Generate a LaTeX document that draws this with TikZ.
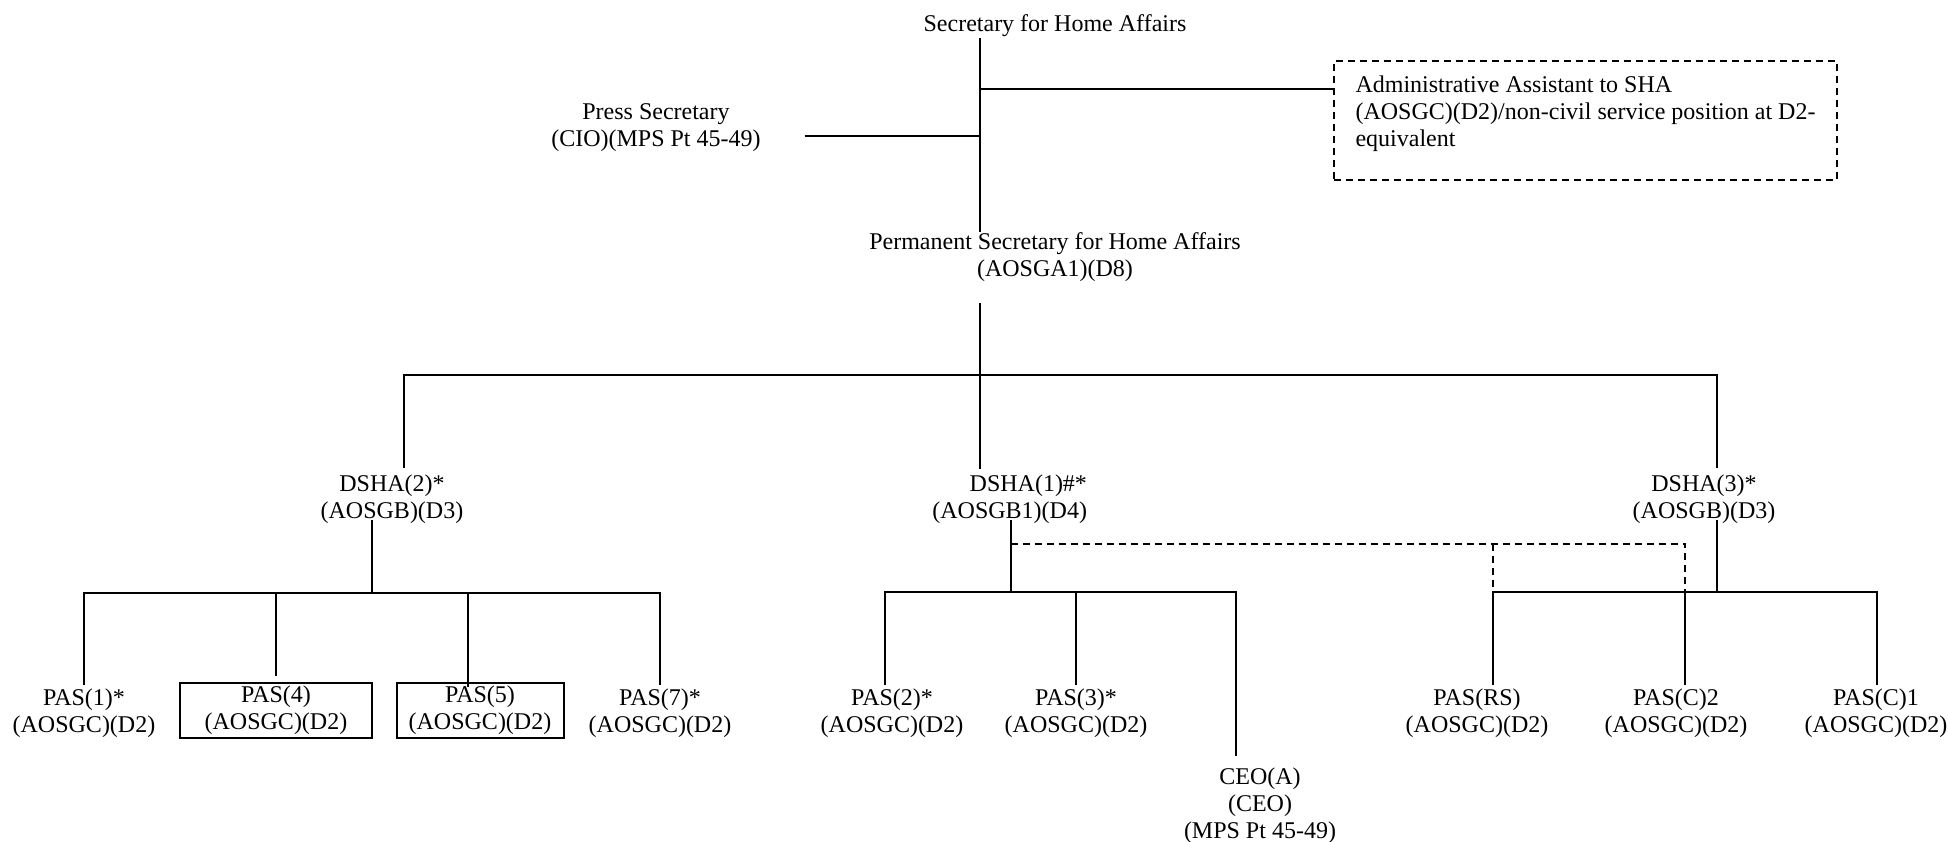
\documentclass[tikz,border=0pt]{standalone}
\usepackage{fontspec}
\setmainfont{Liberation Serif}
\usetikzlibrary{calc}
\begin{document}
\begin{tikzpicture}[x=0.5pt,y=-0.5pt,line width=1pt]
  \tikzset{every node/.style={inner sep=0pt,anchor=north,align=center,font=\fontsize{12}{13.5}\selectfont},
    post/.style={minimum width=96pt,minimum height=27.5pt},
    postbox/.style={post,draw},
    dashlink/.style={dash pattern=on 3.5pt off 2.5pt}}
  \useasboundingbox (0,0) rectangle (1948,841);
  \node (sha) at (1055,14) {Secretary for Home Affairs};
  \node (press) at (656,103) {Press Secretary\\(CIO)(MPS Pt 45-49)};
  \node (perm) at (1055,232) {Permanent Secretary for Home Affairs\\(AOSGA1)(D8)};
  \node[draw,dashlink,anchor=north west,align=left,minimum width=251.5pt,minimum height=59.5pt,text depth=9pt] (admin) at (1333,60)
    {Administrative Assistant to SHA\\(AOSGC)(D2)/non-civil service position at D2-\\equivalent};
  \node (dsha2) at (392,474) {DSHA(2)*\\(AOSGB)(D3)};
  \node[anchor=north east,align=right] (dsha1) at (1088,474) {DSHA(1)\#*\\(AOSGB1)(D4)};
  \node (dsha3) at (1704,474) {DSHA(3)*\\(AOSGB)(D3)};
  \node[post] (pas1) at (84,685) {PAS(1)*\\(AOSGC)(D2)};
  \node[postbox] (pas4) at (276,682) {PAS(4)\\(AOSGC)(D2)};
  \node[postbox,minimum width=83.5pt] (pas5) at (480,682) {PAS(5)\\(AOSGC)(D2)};
  \node[post] (pas7) at (660,685) {PAS(7)*\\(AOSGC)(D2)};
  \node[post] (pas2) at (892,685) {PAS(2)*\\(AOSGC)(D2)};
  \node[post] (pas3) at (1076,685) {PAS(3)*\\(AOSGC)(D2)};
  \node (ceo) at (1260,767) {CEO(A)\\(CEO)\\(MPS Pt 45-49)};
  \node[post] (pasrs) at (1477,685) {PAS(RS)\\(AOSGC)(D2)};
  \node[post] (pasc2) at (1676,685) {PAS(C)2\\(AOSGC)(D2)};
  \node[post] (pasc1) at (1876,685) {PAS(C)1\\(AOSGC)(D2)};
  \coordinate (spine) at (980,0);
  \draw (sha.south -| spine) -- (perm.north -| spine);
  \draw ($(admin.north west)+(0,28.5)$) coordinate (a1) -- (a1 -| spine);
  \draw ($(press.east)+(43,8.3)$) coordinate (p1) -- (p1 -| spine);
  \draw (perm.south -| spine) ++(0,20) -- ++(0,72) coordinate (bar);
  \draw ($(dsha2.north)+(12,-6)$) |- (bar) -| ($(dsha3.north)+(13,-6)$);
  \draw (bar) |- ($(dsha1.north)+(-31,-6)$);
  \draw ($(dsha2.south)+(-20,-5)$) -- ++(0,73) coordinate (b2);
  \draw (pas1.north) |- (b2) -| (pas7.north);
  \draw ($(pas4.north)+(0,-6)$) coordinate (p4) -- (p4 |- b2);
  \draw ($(pas5.north)+(-12,5)$) coordinate (p5) -- (p5 |- b2);
  \draw ($(dsha1.south)+(1,-5)$) -- ++(0,72) coordinate (b1);
  \draw ($(pas2.north)+(-7,0)$) |- (b1) -| ($(ceo.north)+(-24,-11)$);
  \draw (pas3.north) -- (pas3.north |- b1);
  \draw ($(dsha3.south)+(13,-5)$) -- ++(0,72) coordinate (b3);
  \draw ($(pasrs.north)+(16,0)$) coordinate (rs) |- (b3) -| ($(pasc1.north)+(1,0)$);
  \draw ($(pasc2.north)+(9,0)$) coordinate (c2) -- (c2 |- b3);
  \draw[dashlink] ($(dsha1.south)+(1,19)$) coordinate (d1) -| (c2 |- b3);
  \draw[dashlink] (rs |- d1) -- (rs |- b3);
\end{tikzpicture}
\end{document}
